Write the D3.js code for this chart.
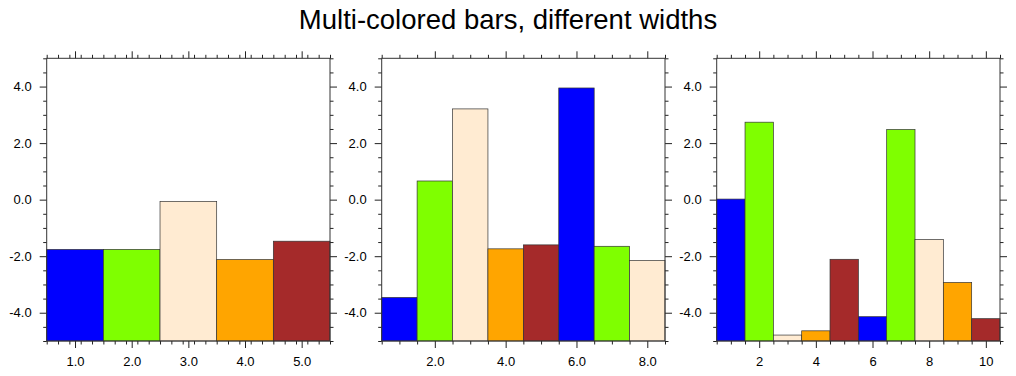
<!DOCTYPE html>
<html>
<head>
<meta charset="utf-8">
<script src="https://cdn.jsdelivr.net/npm/d3@7"></script>
<style>
  body { margin: 0; background: #fff; }
  text { font-family: "Liberation Sans", Arial, Helvetica, sans-serif; }
  .tick line { stroke: #222; }
</style>
</head>
<body>
<div id="chart"></div>
<script>
let width = 1016,
    height = 376;

// bar values, one array per panel
const values1 = [-1.76, -1.76, -0.06, -2.12, -1.47];
const values2 = [-3.46, 0.66, 3.21, -1.74, -1.6, 3.95, -1.65, -2.15];
const values3 = [0.02, 2.74, -4.79, -4.64, -2.11, -4.14, 2.48, -1.41, -2.93, -4.21];

const colors = ["#0000ff", "#7fff00", "#ffebd2", "#ffa500", "#a52a2a"];

const xTicks1 = [1, 2, 3, 4, 5];
const xTicks2 = [2, 4, 6, 8];
const xTicks3 = [2, 4, 6, 8, 10];
const yTicks = [-4, -2, 0, 2, 4];
const yDomain = [-5, 5];

const plotTop = 58.3, plotBottom = 341, plotW = 283.3;

const svg = d3.select("#chart")
  .append("svg")
  .attr("width", width)
  .attr("height", height);

svg.append("text")
  .attr("x", width / 2)
  .attr("y", 29)
  .attr("text-anchor", "middle")
  .attr("font-size", 27.5)
  .attr("fill", "#000")
  .text("Multi-colored bars, different widths");

function panel(left, values, xTicks, minorStep, fmt) {
  let n = values.length;
  let x = d3.scaleLinear().domain([0.5, n + 0.5]).range([left, left + plotW]);
  let y = d3.scaleLinear().domain(yDomain).range([plotBottom, plotTop]);

  const g = svg.append("g");

  // bars start at the bottom of the plot
  g.selectAll("rect.bar")
    .data(values)
    .join("rect")
    .attr("class", "bar")
    .attr("x", (d, i) => x(i + 0.5))
    .attr("width", (d, i) => x(i + 1.5) - x(i + 0.5))
    .attr("y", d => y(d))
    .attr("height", d => y(yDomain[0]) - y(d))
    .attr("fill", (d, i) => colors[i % colors.length])
    .attr("stroke", "#333")
    .attr("stroke-width", 0.7);

  let xMinor = d3.range(0.5, n + 0.5 + 1e-6, minorStep).filter(v => !xTicks.some(t => Math.abs(t - v) < 1e-6));
  let yMinor = d3.range(-5, 5.001, 0.5).filter(v => !yTicks.includes(v));

  const addAxis = (axis, transform) => {
    const a = g.append("g").attr("transform", transform).call(axis);
    a.select(".domain").remove();
    a.selectAll("text").attr("font-size", 13).attr("fill", "#000");
    a.selectAll("line").attr("stroke", "#222");
    return a;
  };

  // major ticks, labelled on bottom and left
  addAxis(d3.axisBottom(x).tickValues(xTicks).tickSize(7).tickPadding(9).tickFormat(fmt), `translate(0,${plotBottom})`);
  addAxis(d3.axisTop(x).tickValues(xTicks).tickSize(7).tickFormat(""), `translate(0,${plotTop})`);
  addAxis(d3.axisLeft(y).tickValues(yTicks).tickSize(7).tickPadding(8).tickFormat(d => d.toFixed(1)), `translate(${left},0)`);
  addAxis(d3.axisRight(y).tickValues(yTicks).tickSize(7).tickFormat(""), `translate(${left + plotW},0)`);

  // minor ticks
  addAxis(d3.axisBottom(x).tickValues(xMinor).tickSize(3.5).tickFormat(""), `translate(0,${plotBottom})`);
  addAxis(d3.axisTop(x).tickValues(xMinor).tickSize(3.5).tickFormat(""), `translate(0,${plotTop})`);
  addAxis(d3.axisLeft(y).tickValues(yMinor).tickSize(3.5).tickFormat(""), `translate(${left},0)`);
  addAxis(d3.axisRight(y).tickValues(yMinor).tickSize(3.5).tickFormat(""), `translate(${left + plotW},0)`);

  g.append("rect")
    .attr("x", left)
    .attr("y", plotTop)
    .attr("width", plotW)
    .attr("height", plotBottom - plotTop)
    .attr("fill", "none")
    .attr("stroke", "#333")
    .attr("stroke-width", 1);
}

panel(46.7, values1, xTicks1, 0.2, d => d.toFixed(1));
panel(381.7, values2, xTicks2, 0.5, d => d.toFixed(1));
panel(716.7, values3, xTicks3, 0.5, d => String(d));
</script>
</body>
</html>
